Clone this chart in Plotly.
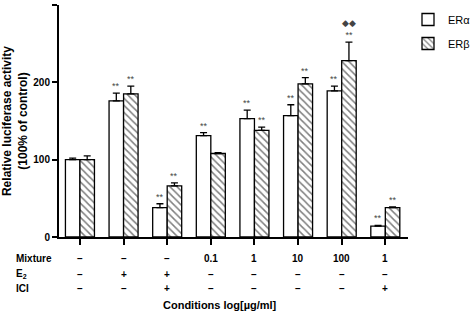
import plotly.graph_objects as go

# ---- data ----
categories = ["Control", "E2", "E2+ICI", "0.1", "1", "10", "100", "ICI+1"]
er_alpha = [100, 176, 38, 131, 153, 157, 189, 14]
er_alpha_err = [2, 10, 5, 4, 11, 14, 6, 1]
er_beta = [100, 185, 66, 108, 138, 198, 228, 38]
er_beta_err = [5, 10, 4, 1, 4, 8, 24, 1]
alpha_marks = ["", "**", "**", "**", "**", "**", "**", "**"]
beta_marks = ["", "**", "**", "", "**", "**", "◆◆<br>**", "**"]
mixture_row = ["–", "–", "–", "0.1", "1", "10", "100", "1"]
e2_row = ["–", "+", "+", "–", "–", "–", "–", "–"]
ici_row = ["–", "–", "+", "–", "–", "–", "–", "+"]
row_names = ["Mixture", "E<sub>2</sub>", "ICI"]
y_ticks = [0, 100, 200, 300]

FONT = "Arial, Liberation Sans, sans-serif"
xs = list(range(len(categories)))
bargap = 0.335
half = (1 - bargap) / 4  # offset of each bar center from the group center

fig = go.Figure()
fig.add_trace(go.Bar(
    x=xs, y=er_alpha, name="ERα",
    marker=dict(color="white", line=dict(color="black", width=1.3)),
    error_y=dict(type="data", array=er_alpha_err, arrayminus=[0] * len(xs),
                 symmetric=False, color="black", thickness=1.3, width=3.5),
    legendgroup="a",
))
fig.add_trace(go.Bar(
    x=xs, y=er_beta, name="ERβ",
    marker=dict(color="white", line=dict(color="black", width=1.3),
                pattern=dict(shape="\\", fgcolor="black", bgcolor="white",
                             size=5, solidity=0.3)),
    error_y=dict(type="data", array=er_beta_err, arrayminus=[0] * len(xs),
                 symmetric=False, color="black", thickness=1.3, width=3.5),
    legendgroup="b",
))

STAR_FONT = dict(family=FONT, size=9, color="#444")
annotations = []
for i in xs:
    if alpha_marks[i]:
        annotations.append(dict(x=i - half, y=er_alpha[i] + er_alpha_err[i], xref="x", yref="y",
                                text=alpha_marks[i], showarrow=False, yanchor="bottom",
                                font=STAR_FONT))
    if beta_marks[i]:
        annotations.append(dict(x=i + half, y=er_beta[i] + er_beta_err[i], xref="x", yref="y",
                                text=beta_marks[i], showarrow=False, yanchor="bottom",
                                font=STAR_FONT))

row_y = [-0.086, -0.155, -0.216]
for r, row in enumerate([mixture_row, e2_row, ici_row]):
    annotations.append(dict(x=-0.13, xref="paper", xanchor="left",
                            y=row_y[r], yref="paper", yshift=-9, text="<b>" + row_names[r] + "</b>",
                            showarrow=False, font=dict(family=FONT, size=10, color="black"),
                            align="left"))
    for i in xs:
        annotations.append(dict(x=i, xref="x", y=row_y[r], yref="paper", yshift=-9,
                                text="<b>" + row[i] + "</b>", showarrow=False,
                                font=dict(family=FONT, size=10, color="black")))
annotations.append(dict(x=0.46, xref="paper", y=-0.295, yref="paper", yshift=-8,
                        text="<b>Conditions log[µg/ml]</b>", showarrow=False,
                        font=dict(family=FONT, size=11, color="black")))

fig.update_layout(
    width=472, height=318,
    margin=dict(l=59, r=64, t=5, b=81, autoexpand=False),
    paper_bgcolor="white", plot_bgcolor="white",
    barmode="group", bargap=bargap, bargroupgap=0,
    font=dict(family=FONT, color="black"),
    showlegend=True,
    legend=dict(x=1.0, y=1.0, xanchor="left", yanchor="top",
                font=dict(family=FONT, size=11, color="black"),
                traceorder="grouped", tracegroupgap=5, bgcolor="rgba(0,0,0,0)"),
    annotations=annotations,
)
fig.update_xaxes(range=[-0.48, 7.52], tickvals=xs, ticktext=[""] * len(xs),
                 ticks="outside", ticklen=6, tickwidth=2, tickcolor="black",
                 showline=True, linecolor="black", linewidth=2, showgrid=False,
                 zeroline=False)
fig.update_yaxes(range=[0, 300], tickvals=y_ticks, ticktext=["<b>%d</b>" % t for t in y_ticks],
                 ticks="outside", ticklen=5, tickwidth=2, tickcolor="black",
                 showline=True, linecolor="black", linewidth=2, showgrid=False,
                 zeroline=False, tickfont=dict(family=FONT, size=10, color="black"),
                 title=dict(text="<b>Relative luciferase activity<br>(100% of control)</b>",
                            font=dict(family=FONT, size=12, color="black"), standoff=4))

fig.write_html("out.html", config={"displayModeBar": False},
               post_script="document.body.style.margin='0';document.body.style.overflow='hidden';")
